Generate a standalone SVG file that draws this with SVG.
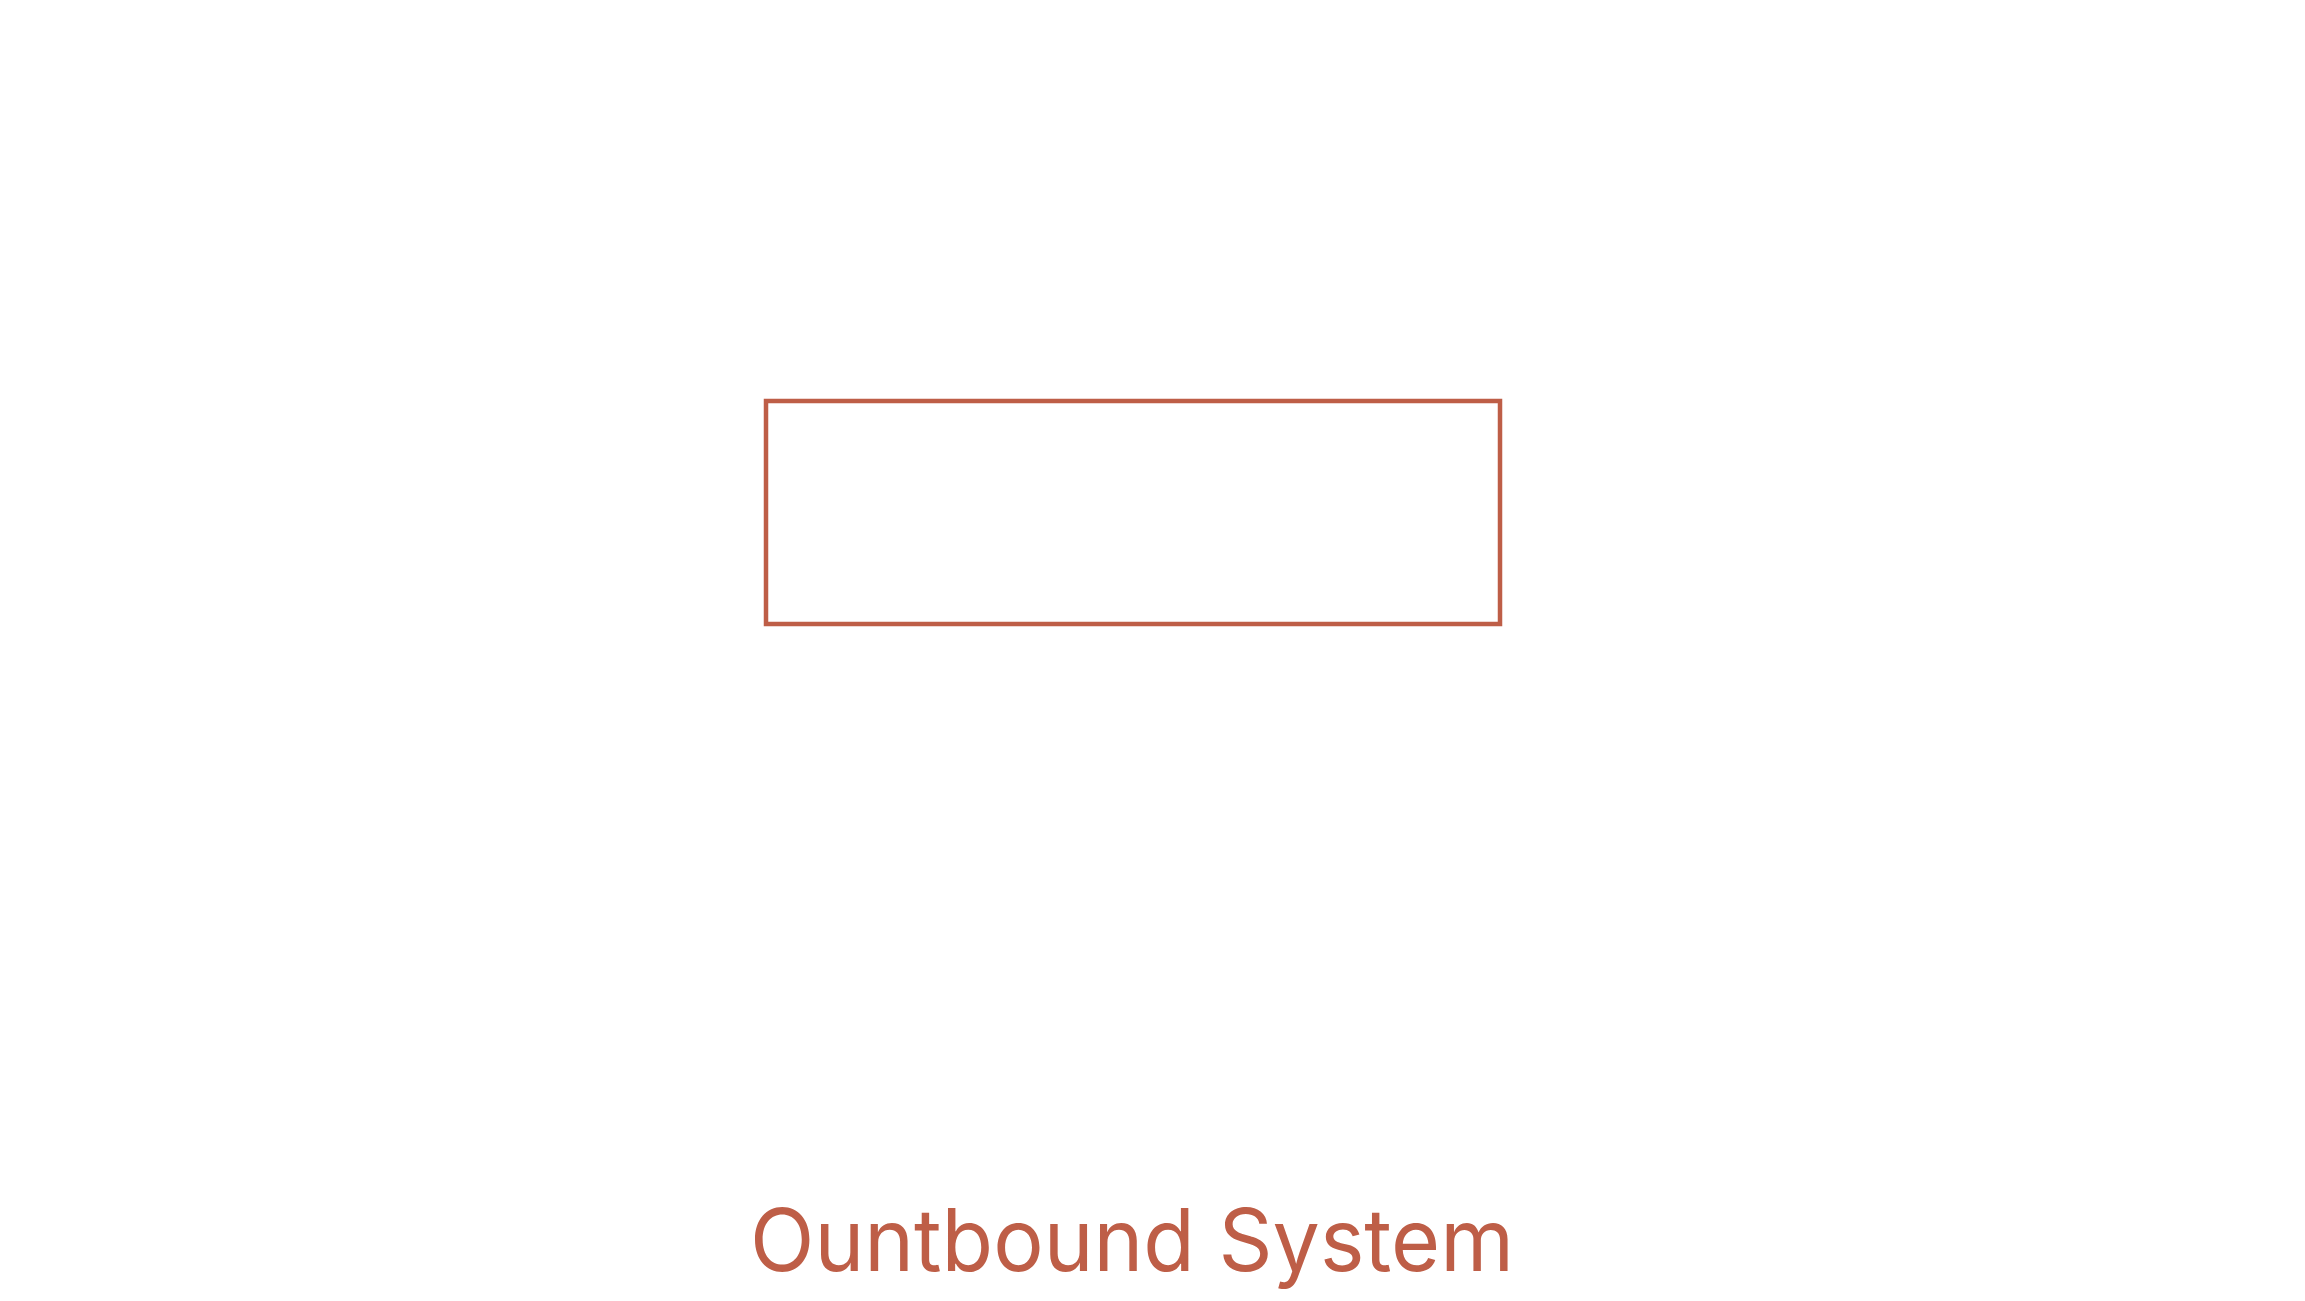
<svg xmlns="http://www.w3.org/2000/svg" width="2305" height="1301" viewBox="0 0 2305 1301">
  <style>
    .hid { fill: #ffffff; font-family: "Inter", "Liberation Sans", sans-serif; font-size: 60px; text-anchor: middle; }
    .conn { fill: none; stroke: #ffffff; stroke-width: 2; stroke-dasharray: 2 4; }
    .box { fill: #ffffff; stroke: #BE5E47; stroke-width: 4.5; }
    .title { fill: #BE5E47; font-family: "Inter", "Liberation Sans", sans-serif; font-size: 86px; font-weight: 400; text-anchor: middle; }
  </style>
  <rect width="2305" height="1301" fill="#ffffff"/>
  <g id="connectors">
    <path class="conn" d="M236,95 V155 C236,215 270,244 330,244 H1078 L1132,280"/>
    <path class="conn" d="M2069,100 V155 C2069,215 2035,244 1975,244 H1190 L1132,280"/>
    <path class="conn" d="M1132,95 V400"/>
    <path class="conn" d="M1132,626 V650 L1070,710 H340 C300,710 285,740 285,770 V805"/>
    <path class="conn" d="M1132,650 L1195,710 H1920 C1975,710 2011,745 2011,790 V808"/>
  </g>
  <g id="node-icp">
    <text class="hid" x="236" y="66">ICP</text>
  </g>
  <g id="node-signals">
    <text class="hid" x="2069" y="66">Signals</text>
  </g>
  <g id="node-engine">
    <rect class="box" x="766" y="401" width="734" height="223"/>
    <text class="hid" x="1132" y="490">Outbound</text>
    <text class="hid" x="1132" y="578">Engine</text>
  </g>
  <g id="node-book-meetings">
    <text class="hid" x="2013" y="877">Book</text>
    <text class="hid" x="2016" y="967">Meetings</text>
  </g>
  <g id="title">
    <text class="title" x="1132" y="1271" textLength="764" lengthAdjust="spacingAndGlyphs">Ountbound System</text>
  </g>
</svg>
